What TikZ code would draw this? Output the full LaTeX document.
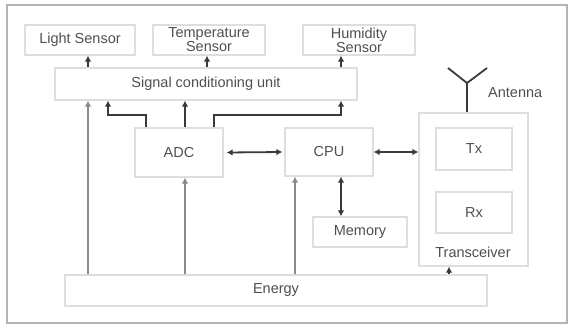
\documentclass[tikz,border=0pt]{standalone}
\usepackage{fontspec}
\setmainfont{Liberation Sans}
\usetikzlibrary{arrows.meta}
\definecolor{txt}{HTML}{505050}
\definecolor{boxc}{HTML}{DEDEDE}
\definecolor{frame}{HTML}{B4B4B4}
\definecolor{darkarr}{HTML}{3A3A3A}
\definecolor{enarr}{HTML}{8A8A8A}
\begin{document}
\begin{tikzpicture}[x=1pt,y=-1pt,
  blk/.style={draw=boxc,line width=1.2pt,inner sep=0pt,align=center,text=txt,
    font=\fontsize{14.5}{14}\selectfont},
  lbl/.style={inner sep=0pt,text=txt,font=\fontsize{14.5}{14}\selectfont},
  arr/.style={draw=darkarr,line width=1.8pt,-{Latex[length=6pt,width=6.5pt]}},
  darr/.style={draw=darkarr,line width=1.8pt,{Latex[length=6pt,width=6.5pt]}-{Latex[length=6pt,width=6.5pt]}},
  earr/.style={draw=enarr,line width=2pt,-{Latex[length=6pt,width=6.5pt]}}]
\useasboundingbox (0,0) rectangle (576,327);
\fill[white] (0,0) rectangle (576,327);
\draw[frame,line width=2pt] (7,5) rectangle (567,323);

\node[blk,minimum width=110pt,minimum height=30pt] (light) at (80,40) {Light Sensor};
\node[blk,minimum width=112pt,minimum height=30pt] (temp) at (209,40) {Temperature\\Sensor};
\node[blk,minimum width=112pt,minimum height=30pt] (hum) at (359,40) {Humidity\\Sensor};
\node[blk,minimum width=302pt,minimum height=32pt] (sig) at (206,84) {Signal conditioning unit};
\node[blk,minimum width=88pt,minimum height=49pt] (adc) at (179,152.5) {ADC};
\node[blk,minimum width=88pt,minimum height=48pt] (cpu) at (329,152) {CPU};
\node[blk,minimum width=109pt,minimum height=153pt] (trans) at (473.5,189.5) {};
\node[blk,minimum width=76pt,minimum height=42pt] (tx) at (474,149) {Tx};
\node[blk,minimum width=76pt,minimum height=41pt] (rx) at (474,212.5) {Rx};
\node[lbl] (translbl) at (473,252) {Transceiver};
\node[blk,minimum width=94pt,minimum height=30pt] (mem) at (360,232) {Memory};
\node[blk,minimum width=422pt,minimum height=31pt] (energy) at (276,290.5) {Energy};
\node[lbl,anchor=west] (antlbl) at (488,93) {Antenna};

% antenna
\coordinate (ant) at (467,83);
\draw[darkarr,line width=1.8pt] (467,0 |- trans.north) -- (ant);
\draw[darkarr,line width=1.8pt] (ant) -- (448,68);
\draw[darkarr,line width=1.8pt] (ant) -- (487,68);

% signal conditioning to sensors
\draw[arr] (88,0 |- sig.north) -- (88,0 |- light.south);
\draw[arr] (207,0 |- sig.north) -- (207,0 |- temp.south);
\draw[arr] (341,0 |- sig.north) -- (341,0 |- hum.south);

% ADC to signal conditioning
\draw[arr] (146,0 |- adc.north) |- (108,115) -- (108,0 |- sig.south);
\draw[arr] (185,0 |- adc.north) -- (185,0 |- sig.south);
\draw[arr] (214,0 |- adc.north) |- (341,115) -- (341,0 |- sig.south);

% horizontal links
\draw[darr] ([xshift=3pt]adc.east) -- ([xshift=-2pt]cpu.west);
\draw[darr] (cpu.east) -- (trans.west |- cpu.east);
\draw[darr] (341,0 |- cpu.south) -- (341,0 |- mem.north);

% energy lines
\draw[earr] (88,0 |- energy.north) -- (88,0 |- sig.south);
\draw[earr] (185,0 |- energy.north) -- (185,0 |- adc.south);
\draw[earr] (295,0 |- energy.north) -- (295,0 |- cpu.south);
\draw[arr] (449,0 |- energy.north) -- (449,0 |- trans.south);
\end{tikzpicture}
\end{document}
